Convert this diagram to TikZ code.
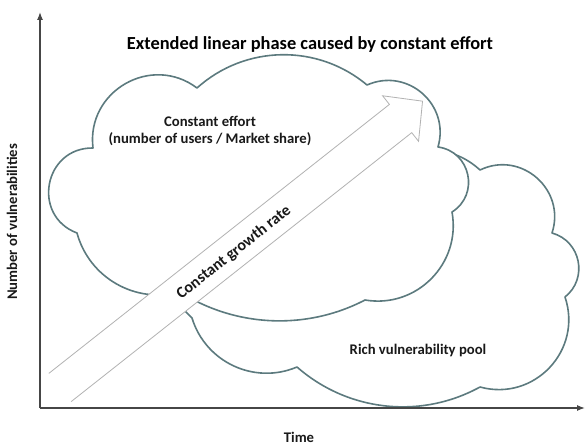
\documentclass[tikz,border=0pt]{standalone}
\usepackage{fontspec}
\setmainfont{Carlito}
\usepackage{tikz}
\usetikzlibrary{arrows.meta}
\definecolor{cloudteal}{RGB}{92,122,126}
\definecolor{axisgray}{RGB}{70,70,70}
\definecolor{arrowgray}{RGB}{178,178,178}
\definecolor{labelink}{RGB}{25,25,25}

\begin{document}
\begin{tikzpicture}[x=1pt,y=1pt,
    every node/.style={font=\bfseries\fontsize{14.7}{17}\selectfont,text=labelink},
    puff/.style 2 args={bend left=#1,looseness=#2},
    cloudline/.style={draw=cloudteal,line width=1.6pt,fill=white,line join=round},
    axis/.style={draw=axisgray,line width=1.2pt,-{Latex[length=8pt,width=6pt]}}]
  \useasboundingbox (0,0) rectangle (585,445);
  \path[cloudline] (432,295) to[puff={20}{0.9}] (480,275) to[puff={67}{1.22}] (552,212)
    to[puff={63}{1.17}] (565,148) to[puff={62}{1.16}] (480,58) to[puff={35}{0.94}] (297,78)
    to[puff={48}{1.02}] (192,127) -- (182,137) -- (260,220) -- cycle;
  \path[cloudline] (77,212) to[puff={80}{1.45}] (93,297) to[puff={67}{1.22}] (197,357)
    to[puff={41}{0.97}] (367,360) to[puff={65}{1.2}] (438,298) to[puff={70}{1.27}] (452,233)
    to[puff={55}{1.08}] (365,145) to[puff={30}{0.91}] (180,153) to[puff={45}{1.0}] (77,212) -- cycle;
  \begin{scope}[shift={(60,57.5)},rotate=38.3]
    \path[fill=white,draw=arrowgray,line width=0.8pt] (0,18) -- (434,18) -- (434,29) -- (462,0)
      -- (434,-29) -- (434,-18) -- (0,-18);
    \node[rotate=38.3,font=\bfseries\fontsize{16}{19}\selectfont] (growth) at (220,-2) {Constant growth rate};
  \end{scope}
  \node[font=\bfseries\fontsize{18.4}{22}\selectfont,text=black] (title) at (310,401) {Extended linear phase caused by constant effort};
  \node[align=center] (effort) at (210,314.5) {Constant effort\\(number of users / Market share)};
  \node (pool) at (418,95) {Rich vulnerability pool};
  \node (xlabel) at (299,8) {Time};
  \node[rotate=90] (ylabel) at (12,223) {Number of vulnerabilities};
  \coordinate (origin) at (40,37);
  \coordinate (ytip) at (40,433);
  \coordinate (xtip) at (585,37);
  \draw[axis] (origin) -- (ytip);
  \draw[axis] (origin) -- (xtip);
\end{tikzpicture}
\end{document}
